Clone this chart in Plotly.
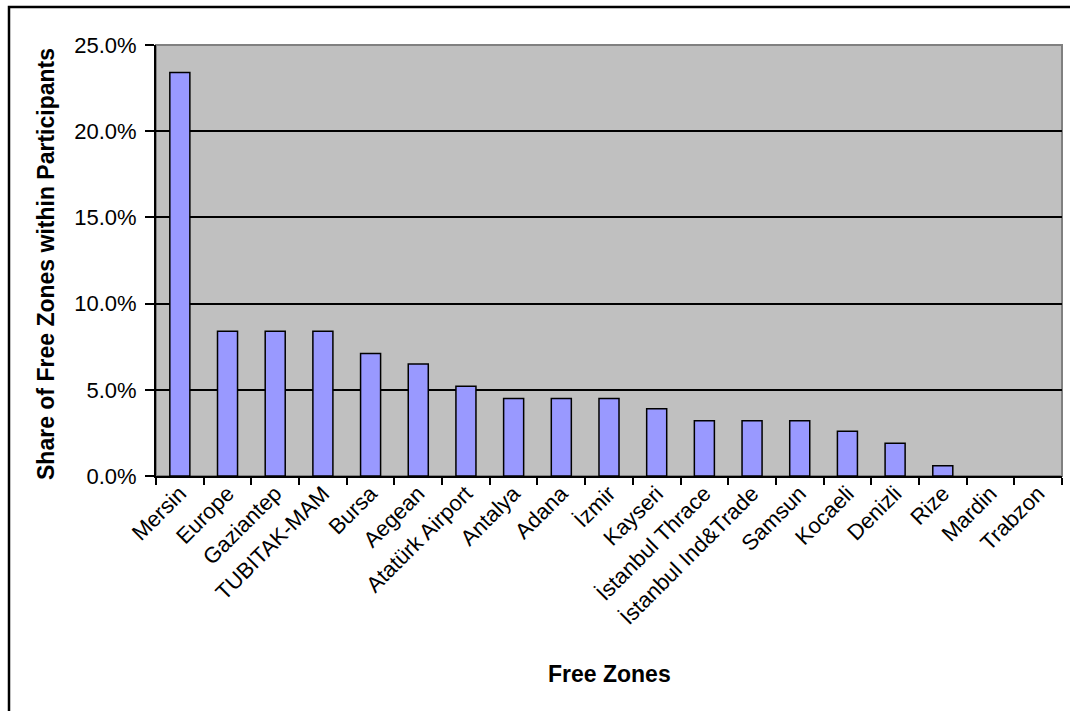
import plotly.graph_objects as go

# Share of each free zone among the participants (percent)
zones = ["Mersin", "Europe", "Gaziantep", "TUBITAK-MAM", "Bursa", "Aegean",
         "Atatürk Airport", "Antalya", "Adana", "İzmir", "Kayseri",
         "İstanbul Thrace", "İstanbul Ind&Trade", "Samsun", "Kocaeli",
         "Denizli", "Rize", "Mardin", "Trabzon"]
share_pct = [23.4, 8.4, 8.4, 8.4, 7.1, 6.5, 5.2, 4.5, 4.5, 4.5, 3.9,
             3.2, 3.2, 3.2, 2.6, 1.9, 0.6, 0.0, 0.0]
y_ticks = [0, 5, 10, 15, 20, 25]
y_tick_text = [f"{v:.1f}%" for v in y_ticks]

W, H = 1070, 711
L, R, T, B = 156, 8, 45, 235
pw, ph = W - L - R, H - T - B

def px_x(x):
    return (x - L) / pw

def px_y(y):
    return (H - B - y) / ph

FONT = "Liberation Sans, Arial, sans-serif"
TICK_SIZE = 22
TITLE_SIZE = 23

# zero-height bars get no outline
outline_w = [1.5 if v > 0 else 0 for v in share_pct]

fig = go.Figure(go.Bar(
    x=zones, y=share_pct,
    marker=dict(color="#9999FF", line=dict(color="black", width=outline_w)),
    hoverinfo="x+y",
))

fig.update_layout(
    width=W, height=H,
    margin=dict(l=L, r=R, t=T, b=B, pad=0),
    paper_bgcolor="white",
    plot_bgcolor="#C0C0C0",
    bargap=0.58,
    showlegend=False,
    font=dict(family=FONT, size=TICK_SIZE, color="black"),
    xaxis=dict(
        type="category", tickson="boundaries", ticks="outside", ticklen=7,
        tickcolor="black", tickwidth=1.5, tickangle=-45,
        ticklabelstandoff=-6,
        showgrid=False, showline=True, linecolor="black", linewidth=2,
        tickfont=dict(family=FONT, size=TICK_SIZE), automargin=False,
    ),
    yaxis=dict(
        range=[0, 25], tickvals=y_ticks, ticktext=y_tick_text,
        ticks="outside", ticklen=9, tickcolor="black", tickwidth=1.5,
        ticklabelstandoff=4,
        showgrid=True, gridcolor="black", gridwidth=1.5,
        showline=True, linecolor="black", linewidth=2, zeroline=False,
        tickfont=dict(family=FONT, size=TICK_SIZE), automargin=False,
    ),
    shapes=[
        # plot area frame (grey on the top and right sides)
        dict(type="rect", xref="paper", yref="paper", x0=0, x1=1, y0=0, y1=1,
             line=dict(color="#808080", width=2), layer="below"),
        # chart area border
        dict(type="rect", xref="paper", yref="paper",
             x0=px_x(9), x1=px_x(1100), y0=px_y(760), y1=px_y(7),
             line=dict(color="black", width=2.5)),
    ],
    annotations=[
        dict(text="<b>Free Zones</b>", xref="paper", yref="paper",
             x=0.5, y=px_y(674), xanchor="center", yanchor="middle",
             showarrow=False, font=dict(family=FONT, size=TITLE_SIZE)),
        dict(text="<b>Share of Free Zones within Participants</b>",
             xref="paper", yref="paper", x=px_x(46), y=px_y(264),
             xanchor="center", yanchor="middle", textangle=-90,
             showarrow=False, font=dict(family=FONT, size=TITLE_SIZE)),
    ],
)

fig.write_html("out.html")
